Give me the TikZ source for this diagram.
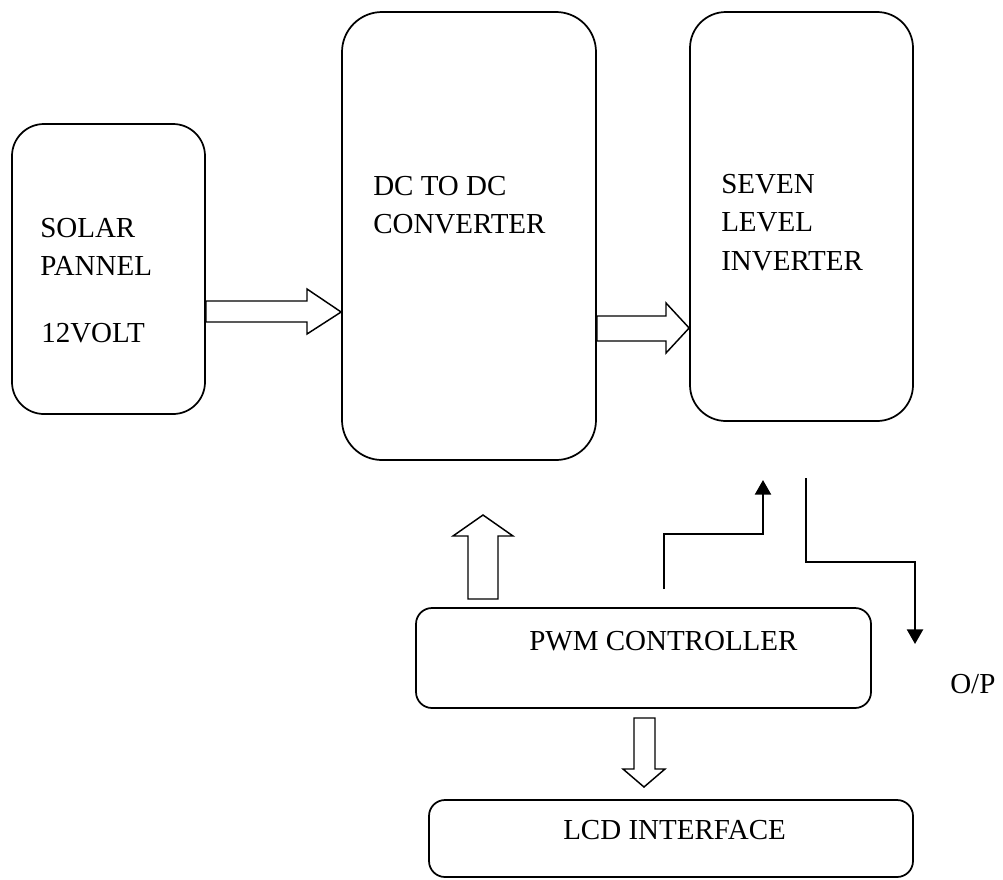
\documentclass[tikz,border=0pt]{standalone}
\usepackage{fontspec}
\setmainfont{Liberation Serif}
\usetikzlibrary{arrows.meta,fit}
\begin{document}
\begin{tikzpicture}[x=0.75pt,y=-0.75pt,
  box/.style={draw,line width=1.3pt,inner sep=0pt},
  lbl/.style={anchor=base west,inner sep=0pt,font=\fontsize{21.75pt}{28.5pt}\selectfont},
  blockarrow/.style={draw,line width=1.1pt,line join=miter},
  sig/.style={line width=1.8pt,-{Triangle[length=11pt,width=12pt]}}]
\useasboundingbox (0,0) rectangle (1003,879);
% boxes
\node[box,rounded corners=24pt,fit={(12,124) (205,414)}] (solar) {};
\node[box,rounded corners=30pt,fit={(342,12) (596,460)}] (dcdc) {};
\node[box,rounded corners=27pt,fit={(690,12) (913,421)}] (inv) {};
\node[box,rounded corners=12pt,fit={(416,608) (871,708)}] (pwm) {};
\node[box,rounded corners=12pt,fit={(429,800) (913,877)}] (lcd) {};
% texts
\node[lbl] (t1) at (40,237) {SOLAR};
\node[lbl] (t2) at (40,275) {PANNEL};
\node[lbl] (t3) at (41,342) {12VOLT};
\node[lbl] (t4) at (373,195) {DC TO DC};
\node[lbl] (t5) at (373,233) {CONVERTER};
\node[lbl] (t6) at (721,193) {SEVEN};
\node[lbl] (t7) at (721,231) {LEVEL};
\node[lbl] (t8) at (721,270) {INVERTER};
\node[lbl] (t9) at (529,650) {PWM CONTROLLER};
\node[lbl] (t10) at (563,839) {LCD INTERFACE};
\node[lbl] (op) at (950,693) {O/P};
% block arrows
\draw[blockarrow] (solar.east |- 0,301) -- (307,301) -- (307,289) -- (dcdc.west |- 0,312)
  -- (307,334) -- (307,322) -- (solar.east |- 0,322) -- cycle;
\draw[blockarrow] (dcdc.east |- 0,316) -- (666,316) -- (666,303) -- (inv.west |- 0,328)
  -- (666,353) -- (666,341) -- (dcdc.east |- 0,341) -- cycle;
\draw[blockarrow] (468,599) -- (468,536) -- (453,536) -- (483,515) -- (513,536)
  -- (498,536) -- (498,599) -- cycle;
\draw[blockarrow] (634,718) -- (634,769) -- (623,769) -- (644,787) -- (665,769)
  -- (655,769) -- (655,718) -- cycle;
% signal arrows
\coordinate (s1) at (664,589);
\coordinate (e1) at (763,480);
\coordinate (s2) at (806,478);
\coordinate (e2) at (915,644);
\draw[sig] (s1) -- (664,534) -| (e1);
\draw[sig] (s2) -- (806,562) -| (e2);
\end{tikzpicture}
\end{document}
